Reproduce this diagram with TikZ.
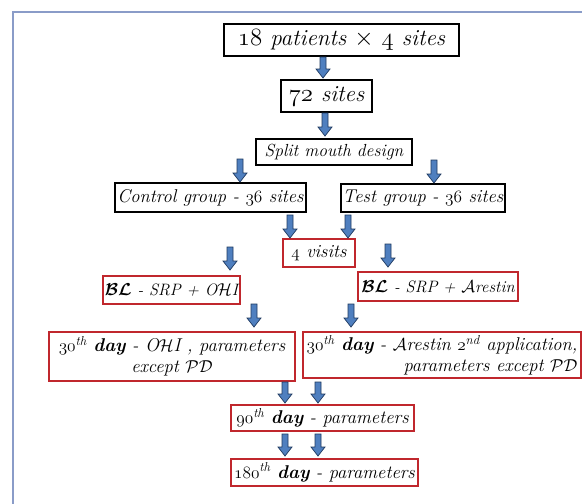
\documentclass[tikz,border=0pt]{standalone}
\usepackage{fontspec}
\definecolor{framec}{HTML}{8A9CC8}
\definecolor{redc}{HTML}{C0272D}
\definecolor{afill}{HTML}{4F7FBF}
\definecolor{aline}{HTML}{1F3A60}
\newcommand{\os}[1]{{\fontencoding{OML}\fontfamily{cmm}\fontseries{m}\fontshape{it}\selectfont #1}}
\newcommand{\blkarrow}[3]{%
  \filldraw[fill=afill, draw=aline, line width=0.7pt]
    (#1-3,#2) -- (#1+3,#2) -- (#1+3,#3-9) -- (#1+7,#3-9) -- (#1,#3)
    -- (#1-7,#3-9) -- (#1-3,#3-9) -- cycle;}
\begin{document}
\begin{tikzpicture}[x=1pt,y=-1pt,
  box/.style={rectangle, line width=1.3pt, inner sep=1pt, align=center,
    font=\fontsize{18.5}{21}\selectfont\itshape},
  bbox/.style={box, draw=black},
  rbox/.style={box, draw=redc},
  big/.style={font=\fontsize{23}{25}\selectfont\itshape},
  mid/.style={font=\fontsize{16.5}{19}\selectfont\itshape}]
\useasboundingbox (0,0) rectangle (582,504);
\fill[white] (0,0) rectangle (582,504);
\draw[framec, line width=2pt] (13,504) -- (13,12) -- (582,12);

\node[bbox, big, minimum width=235pt, minimum height=32pt] (n1) at (341.5,40) {\os{18} patients $\times$ \os{4} sites};
\node[bbox, big, minimum width=91pt, minimum height=32pt] (n2) at (326.5,96) {\os{72} sites};
\node[bbox, minimum width=156pt, minimum height=26pt, font=\fontsize{17.5}{20}\selectfont\itshape] (n3) at (334,152) {Split mouth design};
\node[bbox, minimum width=191pt, minimum height=29pt] (n4) at (210.5,197.5) {Control group - \os{36} sites};
\node[bbox, minimum width=164pt, minimum height=28pt] (n5) at (423,198) {Test group - \os{36} sites};
\node[rbox, minimum width=72pt, minimum height=28pt] (n6) at (319,253) {\os{4} visits};
\node[rbox, mid, minimum width=137pt, minimum height=28pt] (n7) at (171.5,290) {{\boldmath$\mathcal{BL}$} - SRP + O$\mathcal{H}$I};
\node[rbox, mid, minimum width=160pt, minimum height=29pt] (n8) at (438,286.5) {{\boldmath$\mathcal{BL}$} - SRP + $\mathcal{A}$restin};
\node[rbox, minimum width=246pt, minimum height=49pt] (n9) at (172,356.5) {\os{30}\textsuperscript{th} \textbf{day} - O$\mathcal{H}$I , parameters\\ except $\mathcal{PD}$};
\node[rbox, minimum width=278pt, minimum height=46pt, align=right] (n10) at (442,355) {\os{30}\textsuperscript{th} \textbf{day} - $\mathcal{A}$restin \os{2}\textsuperscript{nd} application,\\ parameters except $\mathcal{PD}$};
\node[rbox, minimum width=183pt, minimum height=26pt] (n11) at (322.5,418) {\os{90}\textsuperscript{th} \textbf{day} - parameters};
\node[rbox, minimum width=187pt, minimum height=27pt] (n12) at (324.5,472.5) {\os{180}\textsuperscript{th} \textbf{day} - parameters};

\blkarrow{323}{57}{78}
\blkarrow{325}{113}{136}
\blkarrow{240}{159}{182}
\blkarrow{434}{160}{183}
\blkarrow{290}{215}{238}
\blkarrow{348}{215}{238}
\blkarrow{230}{247}{270}
\blkarrow{388}{244}{267}
\blkarrow{254}{304}{327}
\blkarrow{351}{304}{327}
\blkarrow{285}{382}{403}
\blkarrow{318}{382}{403}
\blkarrow{285}{434}{456}
\blkarrow{318}{434}{456}
\end{tikzpicture}
\end{document}
